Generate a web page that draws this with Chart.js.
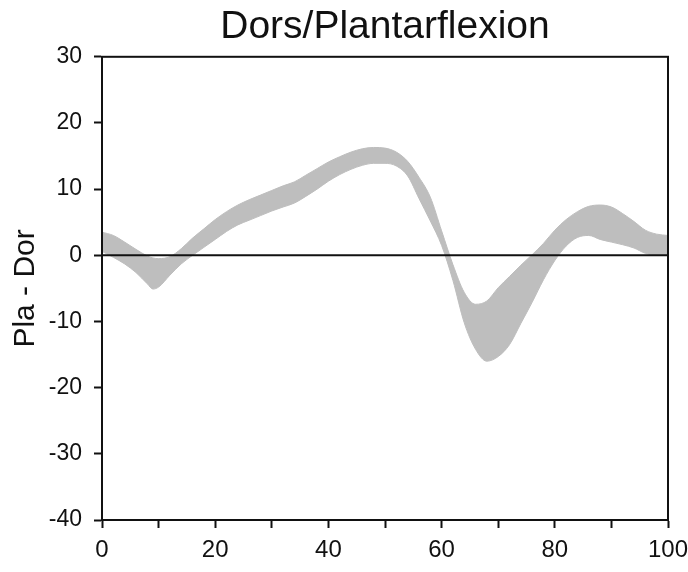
<!DOCTYPE html>
<html>
<head>
<meta charset="utf-8">
<script src="https://cdn.jsdelivr.net/npm/chart.js@4/dist/chart.umd.min.js"></script>
<style>
  html, body { margin: 0; padding: 0; background: #fff; }
  #wrap { width: 688px; height: 572px; }
</style>
</head>
<body>
<div id="wrap"><canvas id="ankleChart"></canvas></div>
<script>
// % of gait cycle
const cycle = [0, 2, 4, 6, 8, 9, 10, 12, 14, 16, 18, 20, 22, 24, 26, 28, 30, 32, 34, 36, 38, 40,
  42, 44, 46, 48, 50, 52, 54, 56, 58, 60, 62, 64, 66, 68, 70, 72, 74, 76, 78, 80,
  82, 84, 86, 88, 90, 92, 94, 96, 98, 100];

// upper / lower edge of the band (deg)
const upperBand = [3.5, 3.0, 2.0, 0.9, -0.1, -0.4, -0.5, -0.2, 1.0, 2.6, 4.0, 5.4, 6.6, 7.6, 8.4, 9.1, 9.8, 10.5, 11.1, 12.1, 13.1, 14.1,
  14.9, 15.6, 16.1, 16.3, 16.2, 15.6, 14.2, 11.8, 8.8, 3.7, -1.4, -5.6, -7.4, -6.9, -4.9, -3.2, -1.5, 0.1, 1.8, 3.8,
  5.4, 6.6, 7.4, 7.6, 7.3, 6.3, 5.1, 3.8, 3.2, 3.0];
const lowerBand = [0.6, -0.3, -1.3, -2.6, -4.3, -5.1, -4.8, -3.0, -1.3, 0.0, 1.2, 2.4, 3.6, 4.6, 5.3, 6.0, 6.7, 7.3, 7.9, 8.9, 10.0, 11.2,
  12.2, 13.0, 13.6, 13.9, 13.9, 13.5, 12.0, 8.6, 5.2, 1.5, -3.8, -10.2, -14.2, -16.0, -15.3, -13.5, -10.3, -7.1, -3.7, -0.8,
  1.4, 2.7, 3.0, 2.4, 2.0, 1.6, 1.1, 0.3, 0.0, 0.0];

const xTicks = [0, 20, 40, 60, 80, 100];
const yTicks = [-40, -30, -20, -10, 0, 10, 20, 30];

const FONT = "Liberation Sans, Arial, sans-serif";
const toPoints = ys => cycle.map((x, i) => ({ x, y: ys[i] }));

// box around the plot area
const frame = {
  id: "frame",
  afterDraw(chart) {
    const { ctx, chartArea: a } = chart;
    ctx.save();
    ctx.strokeStyle = "#111";
    ctx.lineWidth = 2;
    ctx.strokeRect(a.left, a.top, a.right - a.left, a.bottom - a.top);
    ctx.restore();
  }
};

new Chart(document.getElementById("ankleChart"), {
  type: "line",
  data: {
    datasets: [
      {
        data: toPoints(upperBand),
        borderColor: "#bebebe",
        backgroundColor: "#bebebe",
        borderWidth: 1,
        pointRadius: 0,
        cubicInterpolationMode: "monotone",
        fill: "+1"
      },
      {
        data: toPoints(lowerBand),
        borderColor: "#bebebe",
        borderWidth: 1,
        pointRadius: 0,
        cubicInterpolationMode: "monotone",
        fill: false
      },
      {
        // zero line
        data: [{ x: 0, y: 0 }, { x: 100, y: 0 }],
        borderColor: "#111",
        borderWidth: 2,
        pointRadius: 0,
        fill: false,
        order: -1
      }
    ]
  },
  options: {
    responsive: true,
    maintainAspectRatio: false,
    animation: false,
    layout: { padding: { left: 4, right: 0, top: 0, bottom: 0 } },
    plugins: {
      legend: { display: false },
      tooltip: { enabled: false },
      title: {
        display: true,
        fullSize: false,
        text: "Dors/Plantarflexion",
        color: "#111",
        font: { family: FONT, size: 39, weight: "normal" },
        padding: { top: 4, bottom: 6 }
      }
    },
    scales: {
      x: {
        type: "linear",
        min: 0,
        max: 100,
        afterBuildTicks: s => { s.ticks = [0,10,20,30,40,50,60,70,80,90,100].map(v => ({ value: v })); },
        afterFit: s => { s.height = 52; s.paddingLeft = 0; s.paddingRight = 20; },
        border: { display: true, color: "#111", width: 2 },
        grid: { drawOnChartArea: false, drawTicks: true, tickLength: 8, tickColor: "#111", tickWidth: 2 },
        ticks: {
          autoSkip: false,
          maxRotation: 0,
          padding: 8,
          color: "#111",
          font: { family: FONT, size: 24 },
          callback: v => xTicks.includes(v) ? String(v) : ""
        }
      },
      y: {
        min: -40,
        max: 30,
        afterBuildTicks: s => { s.ticks = yTicks.map(v => ({ value: v })); },
        afterFit: s => { s.width = 98; },
        border: { display: true, color: "#111", width: 2 },
        grid: { drawOnChartArea: false, drawTicks: true, tickLength: 8, tickColor: "#111", tickWidth: 2 },
        title: {
          display: true,
          text: "Pla - Dor",
          color: "#111",
          font: { family: FONT, size: 30 },
          padding: { top: 4, bottom: 0 }
        },
        ticks: {
          padding: 12,
          color: "#111",
          font: { family: FONT, size: 23 }
        }
      }
    }
  },
  plugins: [frame]
});
</script>
</body>
</html>
